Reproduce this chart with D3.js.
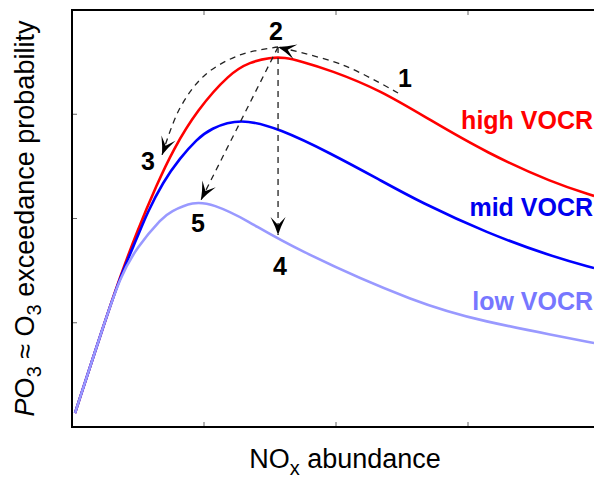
<!DOCTYPE html>
<html><head><meta charset="utf-8">
<script src="https://cdn.jsdelivr.net/npm/d3@7"></script>
<style>body{margin:0;background:#fff}</style>
</head><body><svg id="c" width="594" height="480"></svg>
<script>
// ---- data (arbitrary units) ----
const highVOCR = [[0.023,0.134],[0.235,0.959],[0.364,1.439],[0.492,1.875],[0.644,2.330],[0.765,2.657],[0.947,3.040],[1.197,3.396],[1.348,3.500],[1.5,3.545],[1.614,3.545],[1.727,3.510],[1.955,3.424],[2.333,3.233],[2.712,2.945],[3.144,2.628],[3.644,2.341],[3.955,2.216]];
const midVOCR = [[0.023,0.134],[0.235,0.959],[0.364,1.439],[0.492,1.810],[0.568,2.050],[0.689,2.350],[0.818,2.580],[0.947,2.760],[1.045,2.860],[1.273,2.965],[1.576,2.860],[1.955,2.628],[2.333,2.369],[2.636,2.158],[3.144,1.861],[3.644,1.631],[3.955,1.525]];
const lowVOCR = [[0.023,0.134],[0.235,0.959],[0.364,1.439],[0.492,1.727],[0.689,2.014],[0.742,2.062],[0.917,2.165],[1.068,2.140],[1.326,1.986],[1.652,1.727],[2.636,1.170],[3.144,1.007],[3.644,0.882],[3.955,0.806]];
const seriesNames = ["high VOCR","mid VOCR","low VOCR"];
const seriesLabelPos = [[3.955,2.86],[3.955,2.02],[3.955,1.12]];
const xTicks = [1,2,3];
const yTicks = [1,2,3];
// arrows (paths) and step numbers
const arrow12 = [[2.470,3.204],[2.053,3.472],[1.561,3.645]];
const arrow23 = [[1.561,3.645],[1.273,3.569],[1.008,3.377],[0.818,3.060],[0.682,2.609]];
const arrow25 = [[1.561,3.645],[0.977,2.177]];
const arrow24 = [[1.561,3.645],[1.561,1.842]];
const stepLabels = ["1","2","3","4","5"];
const stepPos = [[2.523,3.262],[1.545,3.712],[0.576,2.465],[1.576,1.458],[0.955,1.871]];

// ---- layout ----
const x = d3.scaleLinear().domain([0,4]).range([72,600]);
const y = d3.scaleLinear().domain([0,4]).range([427,10]);
const xRight = 618;
const svg = d3.select('#c');
const font = "'Liberation Sans', Arial, Helvetica, sans-serif";

// ticks (inside, all four sides)
const tk = svg.append('g').attr('stroke','#666').attr('stroke-width',1);
xTicks.forEach(t=>{
  tk.append('line').attr('x1',x(t)).attr('x2',x(t)).attr('y1',y(0)).attr('y2',y(0)-5);
  tk.append('line').attr('x1',x(t)).attr('x2',x(t)).attr('y1',y(4)).attr('y2',y(4)+5);
});
yTicks.forEach(t=>{
  tk.append('line').attr('x1',x(0)).attr('x2',x(0)+5).attr('y1',y(t)).attr('y2',y(t));
  tk.append('line').attr('x1',xRight).attr('x2',xRight-5).attr('y1',y(t)).attr('y2',y(t));
});

// box
svg.append('rect').attr('x',x(0)).attr('y',y(4)).attr('width',xRight-x(0)).attr('height',y(0)-y(4))
  .attr('fill','none').attr('stroke','#000').attr('stroke-width',2);

// curves (red, then blue, then light blue on top)
const line = d3.line().x(d=>x(d[0])).y(d=>y(d[1])).curve(d3.curveBasis);
const curveColors = ['#ff0000','#0000ff','#9999ff'];
const textColors = ['#ff0000','#0000ee','#7777ff'];
[highVOCR, midVOCR, lowVOCR].forEach((s,i)=>{
  svg.append('path').attr('d',line(s)).attr('fill','none')
    .attr('stroke',curveColors[i]).attr('stroke-width',2.6).attr('stroke-linejoin','round');
});
seriesNames.forEach((n,i)=>{
  svg.append('text').attr('x',x(seriesLabelPos[i][0])-1).attr('y',y(seriesLabelPos[i][1]))
    .attr('text-anchor','end').attr('font-family',font).attr('font-weight','bold')
    .attr('font-size',25).attr('fill',textColors[i]).text(n);
});

// arrows
const aline = d3.line().x(d=>x(d[0])).y(d=>y(d[1])).curve(d3.curveCatmullRom);
function arrow(pts){
  svg.append('path').attr('d',aline(pts)).attr('fill','none').attr('stroke','#222')
    .attr('stroke-width',1.3).attr('stroke-dasharray','6,5');
  const a = pts[pts.length-1], b = pts[pts.length-2];
  const ang = Math.atan2(y(a[1])-y(b[1]), x(a[0])-x(b[0]))*180/Math.PI;
  svg.append('path').attr('d','M0,0 Q-8,-2.5 -18,-7.5 L-10,0 L-18,7.5 Q-8,2.5 0,0Z')
    .attr('fill','#000').attr('transform',`translate(${x(a[0])},${y(a[1])}) rotate(${ang})`);
}
[arrow12, arrow23, arrow25, arrow24].forEach(arrow);
stepLabels.forEach((s,i)=>{
  svg.append('text').attr('x',x(stepPos[i][0])).attr('y',y(stepPos[i][1]))
    .attr('text-anchor','middle').attr('font-family',font).attr('font-weight','bold')
    .attr('font-size',25).attr('fill','#000').text(s);
});

// axis labels
const xl = svg.append('text').attr('x',(x(0)+xRight)/2).attr('y',468)
  .attr('text-anchor','middle').attr('font-family',font).attr('font-size',27).attr('fill','#000');
xl.append('tspan').text('NO');
xl.append('tspan').attr('dy',7).attr('font-size',20).text('x');
xl.append('tspan').attr('dy',-7).text(' abundance');

const yl = svg.append('text').attr('transform',`translate(34,${(y(0)+y(4))/2}) rotate(-90)`)
  .attr('text-anchor','middle').attr('font-family',font).attr('font-size',27).attr('fill','#000');
yl.append('tspan').attr('font-style','italic').text('P');
yl.append('tspan').text('O');
yl.append('tspan').attr('dy',7).attr('font-size',20).text('3');
yl.append('tspan').attr('dy',-7).text(' ≈ O');
yl.append('tspan').attr('dy',7).attr('font-size',20).text('3');
yl.append('tspan').attr('dy',-7).text(' exceedance probability');
</script></body></html>
